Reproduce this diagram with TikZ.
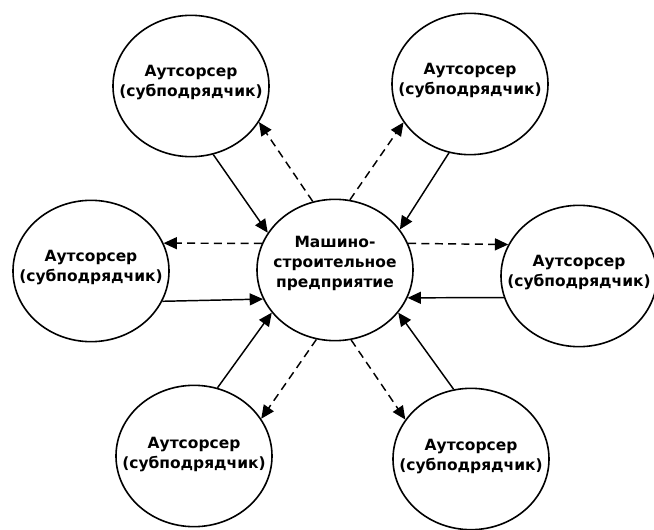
\documentclass[tikz,border=0pt]{standalone}
\usepackage{fontspec}
\setmainfont{DejaVu Sans}
\usetikzlibrary{shapes.geometric, arrows.meta}

\begin{document}
\begin{tikzpicture}[
        x=0.75pt, y=-0.75pt,
        unit/.style={% For the ellipses
            ellipse,
            draw,
            line width=1.2pt,
            inner sep=0pt,
            minimum width=117pt,
            minimum height=106pt,
            },
        txt/.style={% For the text inside
            align=center,
            inner sep=0pt,
            font=\bfseries\fontsize{11.6}{15}\selectfont,
            },
        flow/.style={% Solid arrows
            line width=1.1pt,
            -{Triangle[length=10pt,width=9pt]},
            },
        info/.style={% Dashed arrows
            flow,
            dash pattern=on 6pt off 4pt,
            },
            ]
        \useasboundingbox (0,0) rectangle (654,529);
        % Draw the ellipses
        \node[unit] (C) at (335,270) {};
        \node[unit] (TL) at (191,86) {};
        \node[unit] (TR) at (470,84) {};
        \node[unit] (L) at (91,271) {};
        \node[unit] (R) at (579,276) {};
        \node[unit] (BL) at (194,456) {};
        \node[unit] (BR) at (471,459) {};
        % Texts
        \node[txt] (Ct) at (335,263) {Машино-\\строительное\\предприятие};
        \node[txt] (TLt) at (191,83) {Аутсорсер\\(субподрядчик)};
        \node[txt] (TRt) at (470,81) {Аутсорсер\\(субподрядчик)};
        \node[txt] (Lt) at (91,268) {Аутсорсер\\(субподрядчик)};
        \node[txt] (Rt) at (579,273) {Аутсорсер\\(субподрядчик)};
        \node[txt] (BLt) at (194,455) {Аутсорсер\\(субподрядчик)};
        \node[txt] (BRt) at (471,457) {Аутсорсер\\(субподрядчик)};
        % Connect all
        \draw[flow] (TL.-72) -- (C.151);
        \draw[info] (C.108) -- (TL.-28);
        \draw[flow] (TR.-107) -- (C.32);
        \draw[info] (C.78) -- (TR.210);
        \draw[info] (C.160) -- (L.21);
        \draw[flow] (L.-23) -- (C.202);
        \draw[info] (C.20) -- (R.156);
        \draw[flow] (R.196) -- (C.-21);
        \draw[flow] (BL.71) -- (C.214);
        \draw[info] (C.255) -- (BL.29);
        \draw[flow] (BR.104) -- (C.-34);
        \draw[info] (C.-77) -- (BR.149);
\end{tikzpicture}
\end{document}
